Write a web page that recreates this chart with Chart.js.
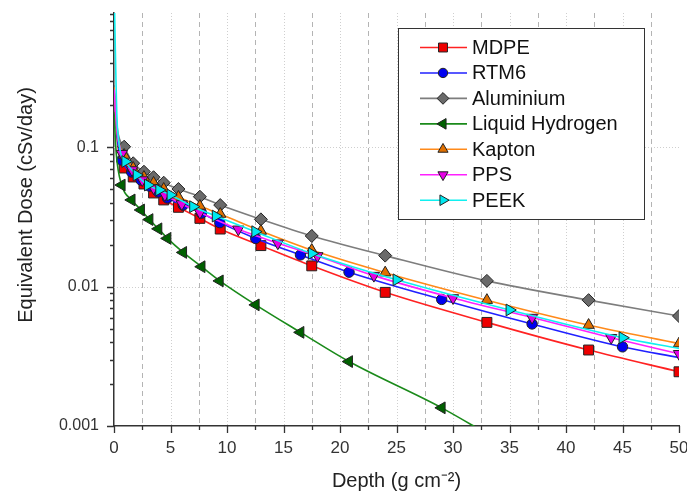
<!DOCTYPE html>
<html lang="en">
<head>
<meta charset="UTF-8">
<title>Equivalent Dose vs Depth</title>
<script src="https://cdn.jsdelivr.net/npm/chart.js"></script>
<style>
    html, body { margin: 0; padding: 0; background: #fff; }
    #wrap { width: 687px; height: 495px; }
</style>
</head>
<body>
<div id="wrap"><canvas id="doseChart" width="687" height="495"></canvas></div>
<script>
// depth in g cm^-2, dose in cSv/day
const mdpeX = [0, 0.3, 0.9, 1.7, 2.65, 3.5, 4.4, 5.7, 7.6, 9.4, 13, 17.5, 24, 33, 42, 50];
const mdpeY = [0.26, 0.11, 0.071, 0.0612, 0.0545, 0.047, 0.0419, 0.0371, 0.0309, 0.0259, 0.0197, 0.0141, 0.0091, 0.00554, 0.00351, 0.00245];

const rtm6X = [0, 0.3, 0.68, 1.56, 2.39, 3.14, 3.93, 4.73, 6.12, 7.75, 9.36, 12.54, 16.5, 20.8, 29, 37, 45, 50];
const rtm6Y = [0.26, 0.115, 0.081, 0.0665, 0.0582, 0.0527, 0.0478, 0.0433, 0.0385, 0.0337, 0.0288, 0.0222, 0.0169, 0.0127, 0.0081, 0.0054, 0.0037, 0.0031];

const alX = [0, 0.3, 0.9, 1.7, 2.65, 3.5, 4.4, 5.7, 7.6, 9.4, 13, 17.5, 24, 33, 42, 50];
const alY = [0.28, 0.135, 0.101, 0.0768, 0.0668, 0.061, 0.0557, 0.0502, 0.0442, 0.0385, 0.0304, 0.0231, 0.0167, 0.011, 0.008, 0.00615];

const lh2X = [0, 0.2, 0.68, 1.56, 2.39, 3.14, 3.93, 4.73, 6.12, 7.75, 9.36, 12.54, 16.5, 20.8, 29, 33];
const lh2Y = [0.18, 0.09, 0.0536, 0.0419, 0.0355, 0.0303, 0.026, 0.0222, 0.0176, 0.0139, 0.011, 0.0074, 0.0047, 0.0029, 0.00135, 0.00088];

const kaptonX = [0, 0.3, 0.9, 1.7, 2.65, 3.5, 4.4, 5.7, 7.6, 9.4, 13, 17.5, 24, 33, 42, 50];
const kaptonY = [0.27, 0.125, 0.088, 0.071, 0.0612, 0.0555, 0.0502, 0.044, 0.0379, 0.0332, 0.0251, 0.0183, 0.0126, 0.008, 0.0053, 0.0039];

const ppsX = [0, 0.3, 0.7, 1.6, 2.5, 3.5, 4.5, 6.0, 7.6, 11, 14.5, 18, 23, 30, 37, 44, 50];
const ppsY = [0.26, 0.125, 0.09, 0.0687, 0.0582, 0.051, 0.0455, 0.0392, 0.034, 0.0258, 0.0205, 0.0166, 0.012, 0.0083, 0.006, 0.0043, 0.0033];

const peekX = [0, 0.3, 1, 2, 3, 4, 5, 7, 9, 12.5, 17.5, 25, 35, 45, 50];
const peekY = [1.5, 0.14, 0.079, 0.0633, 0.0536, 0.0494, 0.0455, 0.0375, 0.0321, 0.0248, 0.0173, 0.0112, 0.0068, 0.0043, 0.0036];

const xTickLabels = ['0', '5', '10', '15', '20', '25', '30', '35', '40', '45', '50'];
const yDecades = [0.001, 0.01, 0.1];
const yTitle = 'Equivalent Dose (cSv/day)';

const FONT = '"Liberation Sans", Arial, sans-serif';

// name, x, y, line colour, marker fill, marker style, rotation, radius, points without marker
const series = [
    ['MDPE', mdpeX, mdpeY, '#ff2222', '#ee0000', 'rect', 0, 7, [0, 1]],
    ['RTM6', rtm6X, rtm6Y, '#2020ff', '#0000f0', 'circle', 0, 5.2, [0, 1, 17]],
    ['Aluminium', alX, alY, '#7d7d7d', '#6a6a6a', 'rectRot', 0, 6.5, [0, 1]],
    ['Liquid Hydrogen', lh2X, lh2Y, '#1a8a1a', '#006000', 'triangle', 270, 6.8, [0, 1, 15]],
    ['Kapton', kaptonX, kaptonY, '#ff8a1a', '#e07000', 'triangle', 0, 6.5, [0, 1]],
    ['PPS', ppsX, ppsY, '#ff20ff', '#e600e6', 'triangle', 180, 6.5, [0, 1]],
    ['PEEK', peekX, peekY, '#10f0f0', '#00e8f0', 'triangle', 90, 6.8, [0, 1, 14]]
];

const datasets = series.map(([label, xs, ys, line, fill, style, rot, r, bare], i) => ({
    label: label,
    data: xs.map((x, k) => ({ x: x, y: ys[k] })),
    borderColor: line,
    borderWidth: 1.6,
    pointBackgroundColor: fill,
    pointBorderColor: '#222',
    pointBorderWidth: 1,
    pointStyle: style,
    pointRotation: rot,
    pointRadius: c => bare.includes(c.dataIndex) ? 0 : r,
    legendRadius: r,
    cubicInterpolationMode: 'monotone',
    order: series.length - 1 - i
}));

const extras = {
    id: 'extras',
    beforeDatasetsDraw(chart) {
        const { ctx, chartArea: a, scales: { x, y } } = chart;
        ctx.save();
        ctx.lineWidth = 1;
        // vertical grid: dotted at 5s, dashed at the 2.5 in-betweens
        for (let v = 2.5; v < 50; v += 2.5) {
            const px = Math.round(x.getPixelForValue(v)) + 0.5;
            const major = v % 5 === 0;
            ctx.strokeStyle = major ? '#cfcfcf' : '#b4b4b4';
            ctx.setLineDash(major ? [1, 2] : [5, 4]);
            ctx.beginPath();
            ctx.moveTo(px, a.top);
            ctx.lineTo(px, a.bottom);
            ctx.stroke();
        }
        ctx.strokeStyle = '#cfcfcf';
        ctx.setLineDash([1, 2]);
        yDecades.slice(1).forEach(v => {
            const py = Math.round(y.getPixelForValue(v)) + 0.5;
            ctx.beginPath();
            ctx.moveTo(a.left, py);
            ctx.lineTo(a.right, py);
            ctx.stroke();
        });
        ctx.restore();
    },
    afterDraw(chart) {
        const { ctx, chartArea: a, scales: { x, y } } = chart;
        ctx.save();
        // tick marks, outward
        ctx.strokeStyle = '#333';
        ctx.lineWidth = 1.3;
        ctx.beginPath();
        for (let v = 0; v <= 50; v += 2.5) {
            const px = Math.round(x.getPixelForValue(v)) + 0.5;
            ctx.moveTo(px, a.bottom);
            ctx.lineTo(px, a.bottom + (v % 5 === 0 ? 7 : 4));
        }
        yDecades.forEach(d => {
            for (let k = 1; k <= 9; k++) {
                const v = d * k;
                if (v > y.max) break;
                const py = Math.round(y.getPixelForValue(v)) + 0.5;
                ctx.moveTo(a.left, py);
                ctx.lineTo(a.left - (k === 1 ? 7 : 4), py);
            }
        });
        ctx.stroke();

        // y title sits a bit above the axis middle in the original
        ctx.save();
        ctx.translate(26, 205);
        ctx.rotate(-Math.PI / 2);
        ctx.font = '20px ' + FONT;
        ctx.fillStyle = '#222';
        ctx.textAlign = 'center';
        ctx.textBaseline = 'middle';
        ctx.fillText(yTitle, 0, 0);
        ctx.restore();

        // legend box
        const bx = 398.5, by = 28.5, bw = 246, bh = 191;
        ctx.fillStyle = '#fff';
        ctx.fillRect(bx, by, bw, bh);
        ctx.strokeStyle = '#333';
        ctx.lineWidth = 1;
        ctx.strokeRect(bx, by, bw, bh);
        ctx.font = '20px ' + FONT;
        ctx.textBaseline = 'middle';
        chart.data.datasets.forEach((ds, i) => {
            const cy = 47.5 + i * 25.45;
            ctx.strokeStyle = ds.borderColor;
            ctx.lineWidth = 1.6;
            ctx.beginPath();
            ctx.moveTo(420, cy);
            ctx.lineTo(467, cy);
            ctx.stroke();
            ctx.fillStyle = ds.pointBackgroundColor;
            ctx.strokeStyle = ds.pointBorderColor;
            ctx.lineWidth = 1;
            Chart.helpers.drawPoint(ctx, {
                pointStyle: ds.pointStyle,
                rotation: ds.pointRotation,
                radius: ds.legendRadius * 0.9,
                borderWidth: 1
            }, 443, cy);
            ctx.fillStyle = '#111';
            ctx.fillText(ds.label, 472, cy + 1);
        });
        ctx.restore();
    }
};

new Chart(document.getElementById('doseChart'), {
    type: 'line',
    data: { datasets: datasets },
    options: {
        responsive: false,
        animation: false,
        devicePixelRatio: 1,
        layout: { padding: { top: 13, right: 7, left: 0, bottom: 0 } },
        plugins: { legend: { display: false }, tooltip: { enabled: false } },
        scales: {
            x: {
                type: 'linear',
                min: 0,
                max: 50,
                grid: { display: false, drawTicks: false },
                border: { display: true, color: '#333', width: 1.5 },
                ticks: {
                    stepSize: 2.5,
                    autoSkip: false,
                    maxRotation: 0,
                    padding: 12,
                    color: '#333',
                    font: { family: FONT, size: 17 },
                    callback: v => v % 5 === 0 ? xTickLabels[v / 5] : ''
                },
                title: {
                    display: true,
                    text: 'Depth (g cm⁻²)',
                    color: '#222',
                    font: { family: FONT, size: 20 },
                    padding: { top: 4, bottom: 2 }
                },
                afterFit: s => { s.height = 69; s.paddingLeft = 0; s.paddingRight = 0; }
            },
            y: {
                type: 'logarithmic',
                min: 0.001,
                max: 0.92,
                grid: { display: false, drawTicks: false },
                border: { display: true, color: '#333', width: 1.5 },
                afterBuildTicks: s => { s.ticks = yDecades.map(v => ({ value: v, major: true })); },
                ticks: {
                    padding: 15,
                    color: '#333',
                    font: { family: FONT, size: 16 },
                    callback: v => String(v)
                },
                afterFit: s => { s.width = 114; s.paddingTop = 0; s.paddingBottom = 0; }
            }
        }
    },
    plugins: [extras]
});
</script>
</body>
</html>
